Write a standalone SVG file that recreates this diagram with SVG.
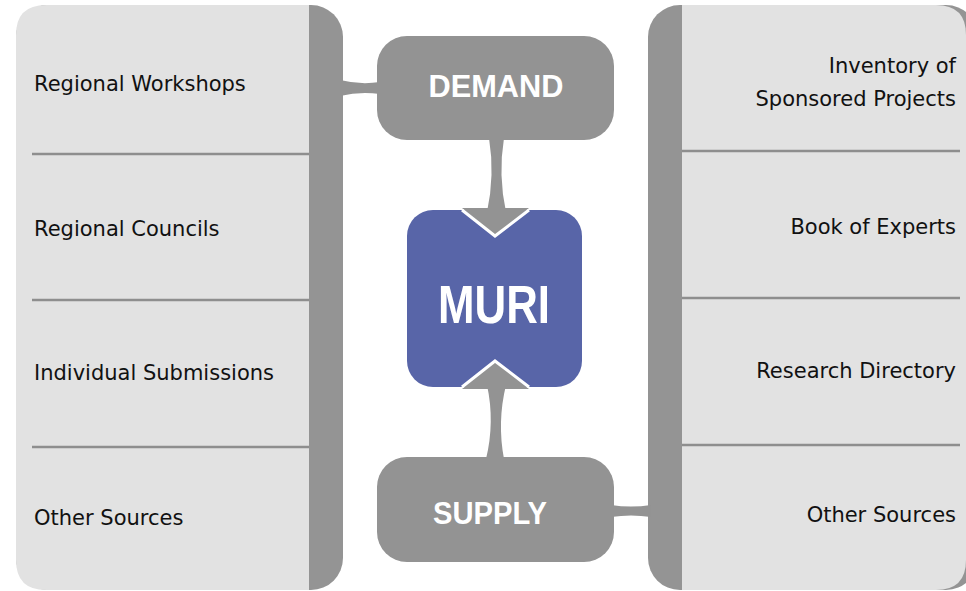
<svg xmlns="http://www.w3.org/2000/svg" width="966" height="591" viewBox="0 0 966 591">
<style>
.panel{fill:#e2e2e2}
.bar{fill:#949494}
.div{stroke:#8e8e8e;stroke-width:2.5}
.lbl{font-family:"DejaVu Sans",sans-serif;font-size:21px;fill:#111}
.box{fill:#939393}
.conn{fill:#939393}
.title{font-family:"Liberation Sans",Arial,sans-serif;font-weight:bold;fill:#fff}
.notch{fill:none;stroke:#fff;stroke-width:3;stroke-linejoin:miter}
</style>
<rect width="966" height="591" fill="#fff"/>

<g id="left-panel">
  <rect class="bar" x="16" y="5" width="327" height="585" rx="32"/>
  <path class="panel" d="M309,5 L46,5 Q16,5 16,35 L16,560 Q16,590 46,590 L309,590 Z"/>
  <line class="div" x1="32" y1="154" x2="309" y2="154"/>
  <line class="div" x1="32" y1="300" x2="309" y2="300"/>
  <line class="div" x1="32" y1="447" x2="309" y2="447"/>
</g>
<g id="left-regional-workshops"><text class="lbl" x="34" y="91">Regional Workshops</text></g>
<g id="left-regional-councils"><text class="lbl" x="34" y="236">Regional Councils</text></g>
<g id="left-individual-submissions"><text class="lbl" x="34" y="380">Individual Submissions</text></g>
<g id="left-other-sources"><text class="lbl" x="34" y="525">Other Sources</text></g>

<g id="right-panel">
  <rect class="bar" x="648" y="5" width="330" height="585" rx="32"/>
  <path class="panel" d="M682,5 L936,5 Q966,5 966,35 L966,560 Q966,590 936,590 L682,590 Z"/>
  <line class="div" x1="682" y1="151" x2="960" y2="151"/>
  <line class="div" x1="682" y1="298" x2="960" y2="298"/>
  <line class="div" x1="682" y1="445" x2="960" y2="445"/>
</g>
<g id="right-inventory"><text class="lbl" x="956" y="73" text-anchor="end">Inventory of</text><text class="lbl" x="956" y="106" text-anchor="end">Sponsored Projects</text></g>
<g id="right-book-of-experts"><text class="lbl" x="956" y="234" text-anchor="end">Book of Experts</text></g>
<g id="right-research-directory"><text class="lbl" x="956" y="378" text-anchor="end">Research Directory</text></g>
<g id="right-other-sources"><text class="lbl" x="956" y="522" text-anchor="end">Other Sources</text></g>

<g id="connectors">
  <path class="conn" d="M340,80 Q360,85 380,82 L380,94 Q360,91 340,96 Z"/>
  <path class="conn" d="M611,505 Q631,508 651,505 L651,517 Q631,514 611,517 Z"/>
  <path class="conn" d="M489,138 Q495,175 487,212 L506,212 Q498,175 504,138 Z"/>
  <path class="conn" d="M487,385 Q495,422 486,459 L504,459 Q497,422 506,385 Z"/>
</g>

<g id="demand">
  <rect class="box" x="377" y="36" width="237" height="104" rx="30"/>
  <text class="title" x="496" y="97" font-size="32" text-anchor="middle" textLength="135" lengthAdjust="spacingAndGlyphs">DEMAND</text>
</g>

<g id="muri">
  <rect x="407" y="210" width="175" height="177" rx="26" fill="#5865a8"/>
  <text class="title" x="494" y="323" font-size="54" text-anchor="middle" textLength="112" lengthAdjust="spacingAndGlyphs">MURI</text>
  <polygon class="conn" points="462,208 529,208 495,236"/>
  <polyline class="notch" points="462,210 495,236 529,210"/>
  <polygon class="conn" points="462,389 529,389 495,361"/>
  <polyline class="notch" points="462,387 495,361 529,387"/>
</g>

<g id="supply">
  <rect class="box" x="377" y="457" width="237" height="105" rx="30"/>
  <text class="title" x="490" y="524" font-size="32" text-anchor="middle" textLength="114" lengthAdjust="spacingAndGlyphs">SUPPLY</text>
</g>
</svg>
